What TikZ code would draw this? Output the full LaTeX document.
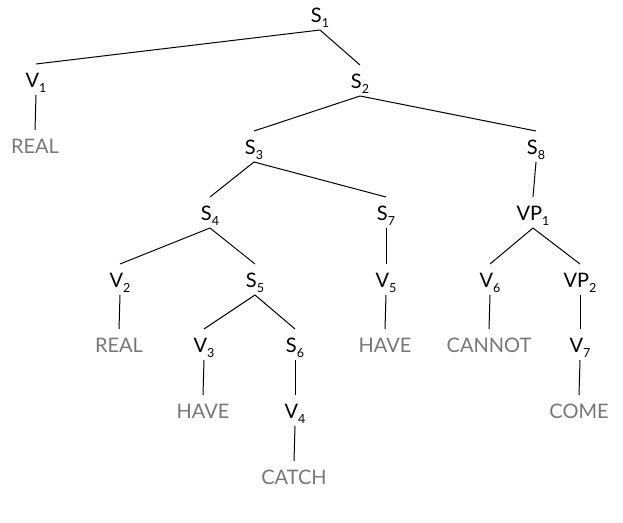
\documentclass[tikz,border=0pt]{standalone}
\usepackage{fontspec}
\setmainfont{Lato}
\definecolor{leafgray}{HTML}{777777}
\newcommand\subn[1]{\raisebox{-5pt}{\fontsize{12.5}{12.5}\selectfont #1}}
\newcommand\treeline[2]{\draw[treeedge] ([yshift=-15pt]#1.center) -- ([yshift=16pt]#2.center);}
\begin{document}
\begin{tikzpicture}[x=1pt,y=-1pt,
  lab/.style={inner sep=0pt, font=\fontsize{20}{21}\selectfont, text height=14.5pt, text depth=0pt},
  leaf/.style={lab, text=leafgray},
  treeedge/.style={draw=black, line width=1pt}]
\useasboundingbox (0,0) rectangle (623,522);
% internal nodes
\node[lab] (s1) at (320,15) {S\subn{1}};
\node[lab] (v1) at (36,80) {V\subn{1}};
\node[lab] (s2) at (360,81) {S\subn{2}};
\node[lab] (s3) at (254,147) {S\subn{3}};
\node[lab] (s8) at (536,147) {S\subn{8}};
\node[lab] (s4) at (210,213) {S\subn{4}};
\node[lab] (s7) at (386,213) {S\subn{7}};
\node[lab] (vp1) at (533,213) {VP\subn{1}};
\node[lab] (v2) at (120,280) {V\subn{2}};
\node[lab] (s5) at (255,280) {S\subn{5}};
\node[lab] (v5) at (386,280) {V\subn{5}};
\node[lab] (v6) at (490,280) {V\subn{6}};
\node[lab] (vp2) at (580,280) {VP\subn{2}};
\node[lab] (v3) at (204,345) {V\subn{3}};
\node[lab] (s6) at (295,345) {S\subn{6}};
\node[lab] (v7) at (580,345) {V\subn{7}};
\node[lab] (v4) at (295,411) {V\subn{4}};
% leaves
\node[leaf] (w1) at (35,146) {REAL};
\node[leaf] (w2) at (119,345) {REAL};
\node[leaf] (w3) at (385,345) {HAVE};
\node[leaf] (w4) at (489,345) {CANNOT};
\node[leaf] (w5) at (203,411) {HAVE};
\node[leaf] (w6) at (579,411) {COME};
\node[leaf] (w7) at (294,477) {CATCH};
% edges
\treeline{s1}{v1}
\treeline{s1}{s2}
\treeline{v1}{w1}
\treeline{s2}{s3}
\treeline{s2}{s8}
\treeline{s3}{s4}
\treeline{s3}{s7}
\treeline{s8}{vp1}
\treeline{s4}{v2}
\treeline{s4}{s5}
\treeline{s7}{v5}
\treeline{vp1}{v6}
\treeline{vp1}{vp2}
\treeline{v2}{w2}
\treeline{s5}{v3}
\treeline{s5}{s6}
\treeline{v5}{w3}
\treeline{v6}{w4}
\treeline{vp2}{v7}
\treeline{v3}{w5}
\treeline{s6}{v4}
\treeline{v7}{w6}
\treeline{v4}{w7}
\end{tikzpicture}
\end{document}
